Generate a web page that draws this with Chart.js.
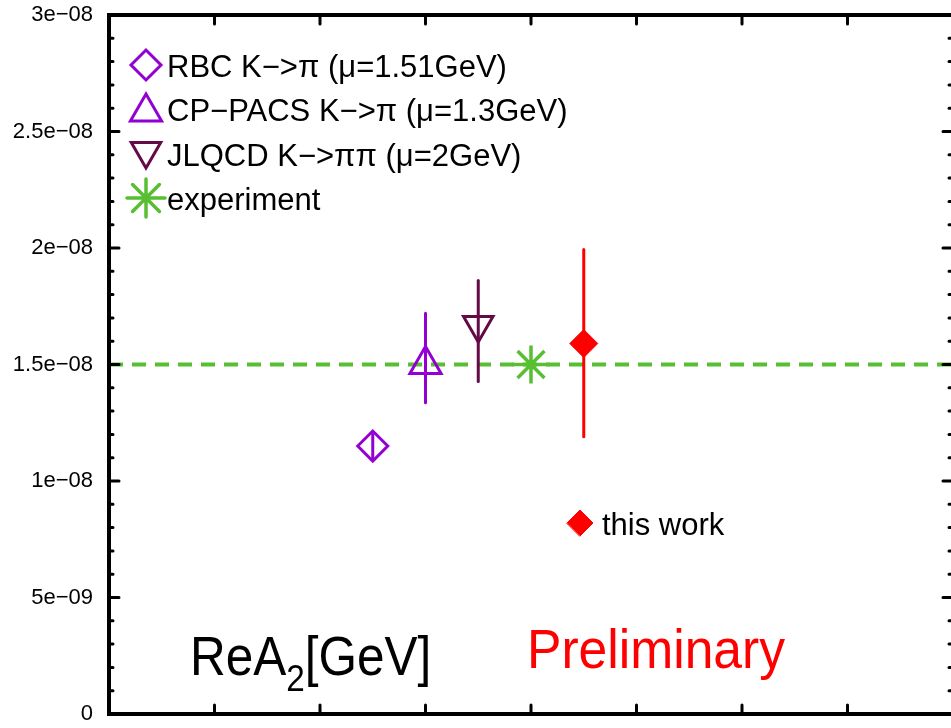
<!DOCTYPE html>
<html>
<head>
<meta charset="utf-8">
<script src="https://cdn.jsdelivr.net/npm/chart.js@4/dist/chart.umd.min.js"></script>
<style>
  html, body { margin: 0; padding: 0; background: #fff; overflow: hidden; }
  #wrap { width: 960px; height: 728px; }
</style>
</head>
<body>
<div id="wrap"><canvas id="chart" width="960" height="728"></canvas></div>
<script>
// data
const labels = ["RBC K\u2212>\u03c0 (\u03bc=1.51GeV)", "CP\u2212PACS K\u2212>\u03c0 (\u03bc=1.3GeV)", "JLQCD K\u2212>\u03c0\u03c0 (\u03bc=2GeV)", "experiment", "this work"];
const xPos = [2.5, 3.0, 3.5, 4.0, 4.5];
const values = [1.15e-8, 1.5e-8, 1.67e-8, 1.5e-8, 1.59e-8];
const errLow = [1.10e-8, 1.336e-8, 1.427e-8, null, 1.19e-8];
const errHigh = [1.20e-8, 1.72e-8, 1.86e-8, null, 1.994e-8];
const expLineX = [0, 8];
const expLineY = [1.5e-8, 1.5e-8];
const yTickLabels = ["0", "5e\u221209", "1e\u221208", "1.5e\u221208", "2e\u221208", "2.5e\u221208", "3e\u221208"];

const FONT = '"Liberation Sans", Arial, Helvetica, sans-serif';
const purple = "#9400d3";
const plum = "#640a46";
const green = "#58be32";
const red = "#ff0000";

// marker style per series
const markers = [
  { style: "rectRot", radius: 15, rotation: 0, color: purple, fill: "rgba(0,0,0,0)", width: 3 },
  { style: "triangle", radius: 18, rotation: 0, color: purple, fill: "rgba(0,0,0,0)", width: 3 },
  { style: "triangle", radius: 17, rotation: 180, color: plum, fill: "rgba(0,0,0,0)", width: 3 },
  { style: "star", radius: 19, rotation: 0, color: green, fill: "rgba(0,0,0,0)", width: 3.5 },
  { style: "rectRot", radius: 14, rotation: 0, color: red, fill: red, width: 1 }
];

const datasets = [];
// dashed experiment line
datasets.push({
  type: "line",
  data: expLineX.map((x, i) => ({ x: x, y: expLineY[i] })),
  borderColor: green,
  borderWidth: 4,
  borderDash: [14, 9],
  pointRadius: 0,
  order: 10
});
labels.forEach((name, i) => {
  const m = markers[i];
  datasets.push({
    type: "scatter",
    label: name,
    data: [{ x: xPos[i], y: values[i] }],
    pointStyle: m.style,
    pointRadius: m.radius,
    pointRotation: m.rotation,
    pointBorderColor: m.color,
    pointBackgroundColor: m.fill,
    pointBorderWidth: m.width,
    pointHoverRadius: m.radius,
    order: 1
  });
});

const errorBars = {
  id: "errorBars",
  afterDatasetsDraw(chart) {
    const ctx = chart.ctx;
    const xs = chart.scales.x, ys = chart.scales.y;
    ctx.save();
    ctx.lineCap = "round";
    ctx.lineWidth = 3;
    xPos.forEach((x, i) => {
      if (errLow[i] == null) return;
      const px = xs.getPixelForValue(x);
      ctx.strokeStyle = markers[i].color;
      ctx.beginPath();
      ctx.moveTo(px, ys.getPixelForValue(errLow[i]));
      ctx.lineTo(px, ys.getPixelForValue(errHigh[i]));
      ctx.stroke();
    });
    ctx.restore();
  }
};

const frame = {
  id: "frame",
  afterDraw(chart) {
    const ctx = chart.ctx;
    const a = chart.chartArea;
    const xs = chart.scales.x, ys = chart.scales.y;
    ctx.save();
    ctx.strokeStyle = "#000";
    ctx.lineWidth = 4;
    ctx.strokeRect(a.left, a.top, a.right - a.left, a.bottom - a.top);
    ctx.lineCap = "round";
    // y ticks, inward on both sides
    for (let k = 1; k < 30; k++) {
      const py = ys.getPixelForValue(k * 1e-9);
      const len = k % 5 === 0 ? 10 : 4;
      ctx.lineWidth = 3;
      ctx.beginPath();
      ctx.moveTo(a.left, py); ctx.lineTo(a.left + len, py);
      ctx.moveTo(a.right, py); ctx.lineTo(a.right - len, py);
      ctx.stroke();
    }
    // x ticks, inward top and bottom
    for (let k = 1; k < 8; k++) {
      const px = xs.getPixelForValue(k);
      ctx.beginPath();
      ctx.moveTo(px, a.bottom); ctx.lineTo(px, a.bottom - 9);
      ctx.moveTo(px, a.top); ctx.lineTo(px, a.top + 9);
      ctx.stroke();
    }

    // key
    const draw = Chart.helpers.drawPoint;
    const keyRows = [77, 121, 166, 210];
    ctx.fillStyle = "#000";
    ctx.textBaseline = "alphabetic";
    ctx.textAlign = "left";
    ctx.font = "31px " + FONT;
    for (let i = 0; i < 4; i++) {
      const m = markers[i];
      const cy = keyRows[i] - 12 + (m.style === "triangle" ? (m.rotation ? -3 : 3) : 0);
      ctx.strokeStyle = m.color; ctx.fillStyle = m.fill; ctx.lineWidth = m.width;
      draw(ctx, { pointStyle: m.style, radius: m.radius, rotation: m.rotation, borderWidth: m.width }, 146, cy);
      ctx.fillStyle = "#000";
      ctx.fillText(labels[i], 167, keyRows[i]);
    }
    const mw = markers[4];
    ctx.strokeStyle = mw.color; ctx.fillStyle = mw.fill; ctx.lineWidth = 1;
    draw(ctx, { pointStyle: "rectRot", radius: 13, rotation: 0, borderWidth: 1 }, 580, 523);
    ctx.fillStyle = "#000";
    ctx.fillText(labels[4], 602, 535);

    // big captions
    ctx.save();
    ctx.translate(190, 675);
    ctx.scale(0.9, 1);
    ctx.font = "55px " + FONT;
    ctx.fillStyle = "#000";
    let w = 0;
    ctx.fillText("ReA", 0, 0); w += ctx.measureText("ReA").width;
    ctx.font = "37px " + FONT;
    ctx.fillText("2", w, 16); w += ctx.measureText("2").width;
    ctx.font = "55px " + FONT;
    ctx.fillText("[GeV]", w, 0);
    ctx.restore();

    ctx.save();
    ctx.translate(527, 668);
    ctx.font = "55px " + FONT;
    const pw = ctx.measureText("Preliminary").width;
    ctx.scale(258 / pw, 1);
    ctx.fillStyle = red;
    ctx.fillText("Preliminary", 0, 0);
    ctx.restore();

    ctx.restore();
  }
};

new Chart(document.getElementById("chart"), {
  data: { datasets: datasets },
  options: {
    responsive: false,
    devicePixelRatio: 1,
    animation: false,
    events: [],
    layout: { autoPadding: false, padding: { top: 15, bottom: 14, right: 7, left: 0 } },
    plugins: { legend: { display: false }, tooltip: { enabled: false } },
    scales: {
      x: { type: "linear", min: 0, max: 8, display: false },
      y: {
        type: "linear",
        min: 0,
        max: 3e-8,
        afterFit(scale) {
          scale.width = 109;
          scale.paddingTop = 0;
          scale.paddingBottom = 0;
        },
        grid: { display: false, drawTicks: false },
        border: { display: false },
        ticks: {
          stepSize: 5e-9,
          padding: 16,
          color: "#000",
          font: { family: FONT, size: 22 },
          callback: (v, i) => yTickLabels[i]
        }
      }
    }
  },
  plugins: [errorBars, frame]
});
</script>
</body>
</html>
